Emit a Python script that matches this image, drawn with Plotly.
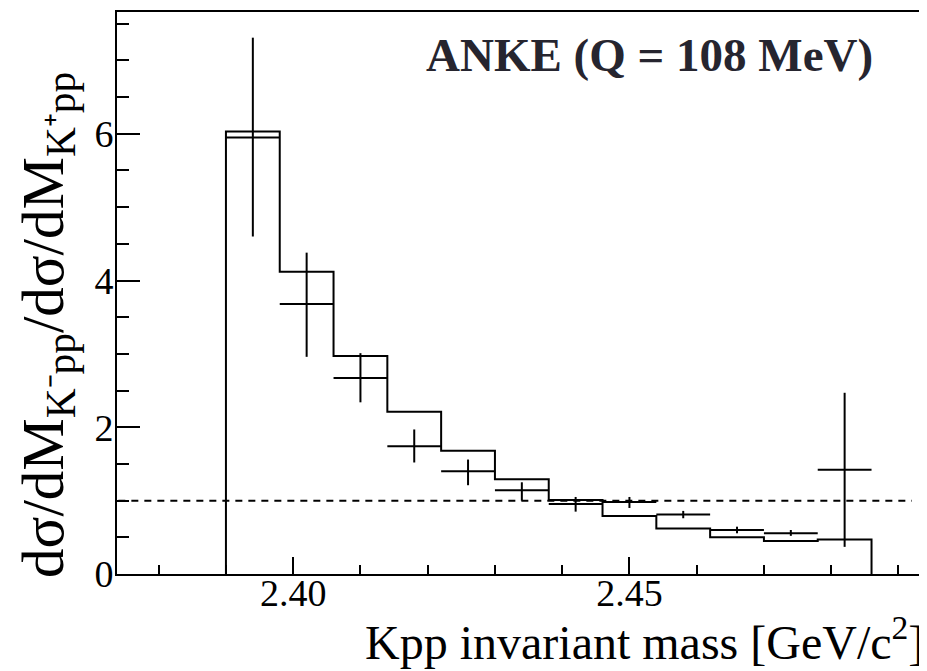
import plotly.graph_objects as go

# ---- data ----
bin_edges = [2.390, 2.398, 2.406, 2.414, 2.422, 2.430, 2.438,
             2.446, 2.454, 2.462, 2.470, 2.478, 2.486]
model_ratio = [6.03, 4.12, 2.97, 2.21, 1.68, 1.29, 1.01, 0.79, 0.62, 0.50, 0.45, 0.47]

data_ratio = [5.95, 3.68, 2.67, 1.74, 1.40, 1.14, 0.955, 0.98, 0.81, 0.60, 0.555, 1.42]
err_up = [1.36, 0.70, 0.34, 0.23, 0.16, 0.11, 0.095, 0.07, 0.05, 0.045, 0.045, 1.05]
err_down = [1.35, 0.72, 0.33, 0.22, 0.19, 0.14, 0.105, 0.08, 0.05, 0.045, 0.035, 1.05]

ref_x = [2.374, 2.492]
ref_y = [1.0, 1.0]

x_range = [2.3738, 2.4941]
y_range = [0, 7.66]
x_ticks = [2.40, 2.45]
x_tick_labels = ["2.40", "2.45"]
y_ticks = [0, 2, 4, 6]
y_tick_labels = ["0", "2", "4", "6"]

# ---- derived ----
centers = [(bin_edges[i] + bin_edges[i + 1]) / 2 for i in range(len(model_ratio))]
half_w = [(bin_edges[i + 1] - bin_edges[i]) / 2 for i in range(len(model_ratio))]

step_x = [bin_edges[0]] + bin_edges[:-1] + [bin_edges[-1], bin_edges[-1]]
step_y = [0] + model_ratio + [model_ratio[-1], 0]

fig = go.Figure()

fig.add_trace(go.Scatter(
    x=step_x, y=step_y, mode="lines", line=dict(color="black", width=2, shape="hv"),
    showlegend=False, hoverinfo="skip"))

fig.add_trace(go.Scatter(
    x=ref_x, y=ref_y, mode="lines",
    line=dict(color="black", width=2, dash="7px,6px"),
    showlegend=False, hoverinfo="skip"))

fig.add_trace(go.Scatter(
    x=centers, y=data_ratio, mode="markers",
    marker=dict(size=0, color="rgba(0,0,0,0)"),
    error_x=dict(type="data", array=half_w, symmetric=True, width=0, thickness=2, color="black"),
    error_y=dict(type="data", array=err_up, arrayminus=err_down, symmetric=False,
                 width=0, thickness=2, color="black"),
    showlegend=False))

serif = "Liberation Serif, Times New Roman, serif"

# page body adds an 8px margin, so the figure is 8px smaller than the window
fig.update_layout(
    width=919, height=663,
    margin=dict(l=109, r=1, t=4, b=97, autoexpand=False),
    paper_bgcolor="white", plot_bgcolor="white",
    font=dict(family=serif, color="black"),
    xaxis=dict(
        range=x_range, showgrid=False, zeroline=False, automargin=False,
        showline=True, linecolor="black", linewidth=2, mirror=True,
        tickmode="array", tickvals=x_ticks, ticktext=x_tick_labels,
        ticks="inside", ticklen=17, tickwidth=2, tickcolor="black",
        ticklabelstandoff=-16,
        tickfont=dict(family=serif, size=38, color="black"),
        minor=dict(dtick=0.01, tick0=2.40, ticks="inside", ticklen=9, tickwidth=2,
                   tickcolor="black", showgrid=False),
    ),
    yaxis=dict(
        range=y_range, showgrid=False, zeroline=False, automargin=False,
        showline=True, linecolor="black", linewidth=2, mirror=True,
        tickmode="array", tickvals=y_ticks, ticktext=y_tick_labels,
        ticks="inside", ticklen=23, tickwidth=2, tickcolor="black",
        ticklabelstandoff=-6,
        tickfont=dict(family=serif, size=38, color="black"),
        minor=dict(dtick=0.5, tick0=0, ticks="inside", ticklen=12, tickwidth=2,
                   tickcolor="black", showgrid=False),
    ),
    annotations=[
        dict(text="Kpp invariant mass [GeV/c<sup>2</sup>]", xref="paper", yref="paper",
             x=0.9995, y=-0.116, xanchor="right", yanchor="middle", showarrow=False,
             font=dict(family=serif, size=48, color="black")),
        dict(text="dσ/dM<sub>K⁻pp</sub>/dσ/dM<sub>K⁺pp</sub>", xref="paper", yref="paper",
             x=-0.086, y=0.444, xanchor="center", yanchor="middle", textangle=-90,
             showarrow=False, font=dict(family=serif, size=59, color="black")),
        dict(text="<b>ANKE (Q = 108 MeV)</b>", xref="paper", yref="paper",
             x=0.937, y=0.924, xanchor="right", yanchor="middle", showarrow=False,
             font=dict(family=serif, size=47, color="#26252f")),
    ],
)

fig.write_html("out.html")
